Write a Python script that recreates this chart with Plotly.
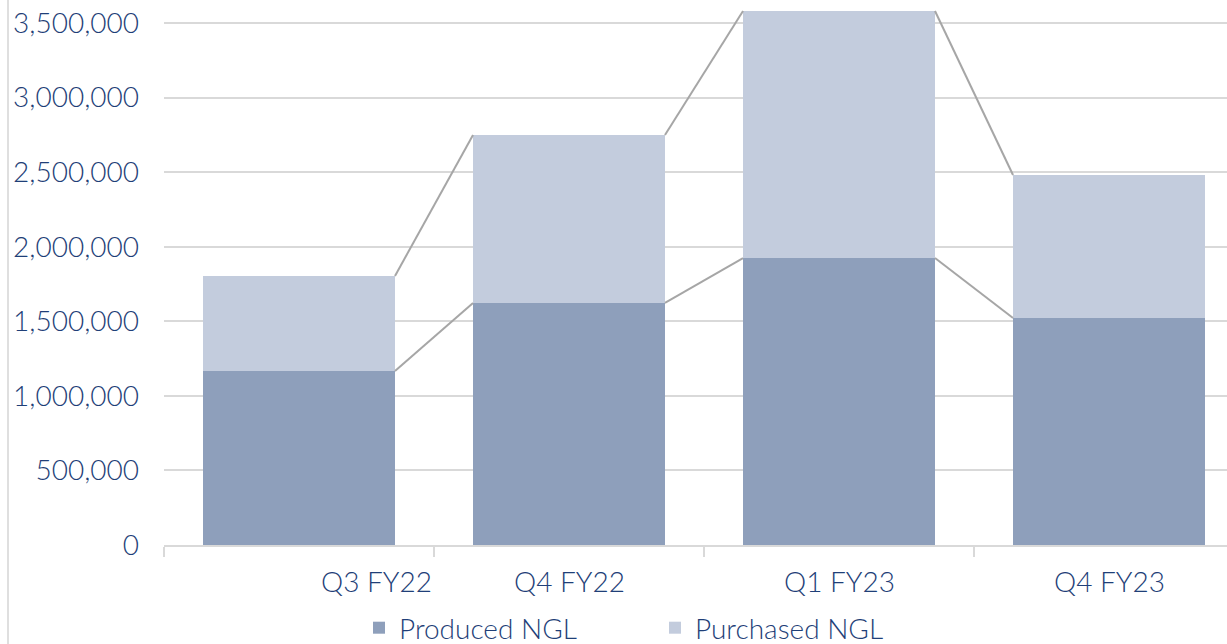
import plotly.graph_objects as go

# Quarterly NGL volumes
quarters = ["Q3 FY22", "Q4 FY22", "Q1 FY23", "Q4 FY23"]
produced_ngl = [1167000, 1623000, 1924000, 1522000]
purchased_ngl = [637000, 1126000, 1656000, 959000]
y_tick_values = [0, 500000, 1000000, 1500000, 2000000, 2500000, 3000000, 3500000]

W, H = 1227, 644
M_L, M_R, M_T, M_B = 164, 0, 0, 99
PLOT_W = W - M_L - M_R
PLOT_H = H - M_T - M_B

BAR_WIDTH = 0.711
PX_PER_CAT = 270.0
X_MAX = -0.5 + PLOT_W / PX_PER_CAT
Y_MAX = 3654000

FONT = "Century Gothic, Lato, sans-serif"
FONT_WEIGHT = 300
TEXT_BLUE = "#1F3F78"
GRID = "#D9D9D9"
C_PRODUCED = "#8E9FBB"
C_PURCHASED = "#C3CCDD"
C_SERIES_LINE = "#A6A6A6"

x_idx = list(range(len(quarters)))
totals = [p + q for p, q in zip(produced_ngl, purchased_ngl)]

fig = go.Figure()

fig.add_trace(go.Bar(x=x_idx, y=produced_ngl, name="Produced NGL",
                     marker=dict(color=C_PRODUCED, line=dict(width=0)),
                     width=BAR_WIDTH))
fig.add_trace(go.Bar(x=x_idx, y=purchased_ngl, name="Purchased NGL",
                     marker=dict(color=C_PURCHASED, line=dict(width=0)),
                     width=BAR_WIDTH))


def series_line(levels):
    # connect the top-right corner of each bar to the top-left corner of the next
    xs, ys = [], []
    hw = BAR_WIDTH / 2
    for i in range(len(levels) - 1):
        xs += [x_idx[i] + hw, x_idx[i + 1] - hw, None]
        ys += [levels[i], levels[i + 1], None]
    return xs, ys


for levels in (produced_ngl, totals):
    lx, ly = series_line(levels)
    fig.add_trace(go.Scatter(x=lx, y=ly, mode="lines", showlegend=False,
                             hoverinfo="skip",
                             line=dict(color=C_SERIES_LINE, width=2)))

text_font = dict(family=FONT, size=28, color=TEXT_BLUE, weight=FONT_WEIGHT)

# category labels under the axis
annotations = []
label_y = -(581 - PLOT_H) / PLOT_H
for i, q in enumerate(quarters):
    if i == 0:
        ax, anchor = x_idx[i] + 0.5, "right"
    else:
        ax, anchor = x_idx[i], "center"
    annotations.append(dict(x=ax, y=label_y, xref="x", yref="paper",
                            text=q, showarrow=False, xanchor=anchor,
                            yanchor="middle", font=text_font))

fig.update_layout(
    width=W, height=H,
    margin=dict(l=M_L, r=M_R, t=M_T, b=M_B, pad=0, autoexpand=False),
    paper_bgcolor="white", plot_bgcolor="white",
    barmode="stack",
    showlegend=True,
    legend=dict(orientation="h", x=(655 - M_L) / PLOT_W, xanchor="center",
                y=-(628 - PLOT_H) / PLOT_H, yanchor="middle",
                traceorder="normal", font=text_font,
                itemwidth=30, entrywidth=251, entrywidthmode="pixels",
                bgcolor="rgba(0,0,0,0)"),
    xaxis=dict(range=[-0.5, X_MAX], showgrid=False, zeroline=False,
               showline=True, linecolor=GRID, linewidth=2,
               tickmode="array",
               tickvals=[i - 0.5 for i in range(len(quarters) + 1)],
               ticks="outside", ticklen=10, tickwidth=2, tickcolor=GRID,
               showticklabels=False, fixedrange=True),
    yaxis=dict(range=[0, Y_MAX], tickmode="array", tickvals=y_tick_values,
               tickformat=",", showgrid=True, gridcolor=GRID, gridwidth=2,
               zeroline=False, showline=False, ticks="",
               ticklabelstandoff=24, tickfont=text_font,
               fixedrange=True),
    annotations=annotations,
    shapes=[dict(type="line", xref="paper", yref="paper",
                 x0=(8 - M_L) / PLOT_W, x1=(8 - M_L) / PLOT_W,
                 y0=-M_B / PLOT_H, y1=1 + M_T / PLOT_H,
                 line=dict(color="#BFBFBF", width=1), layer="below")],
)

fig.write_html("out.html")
